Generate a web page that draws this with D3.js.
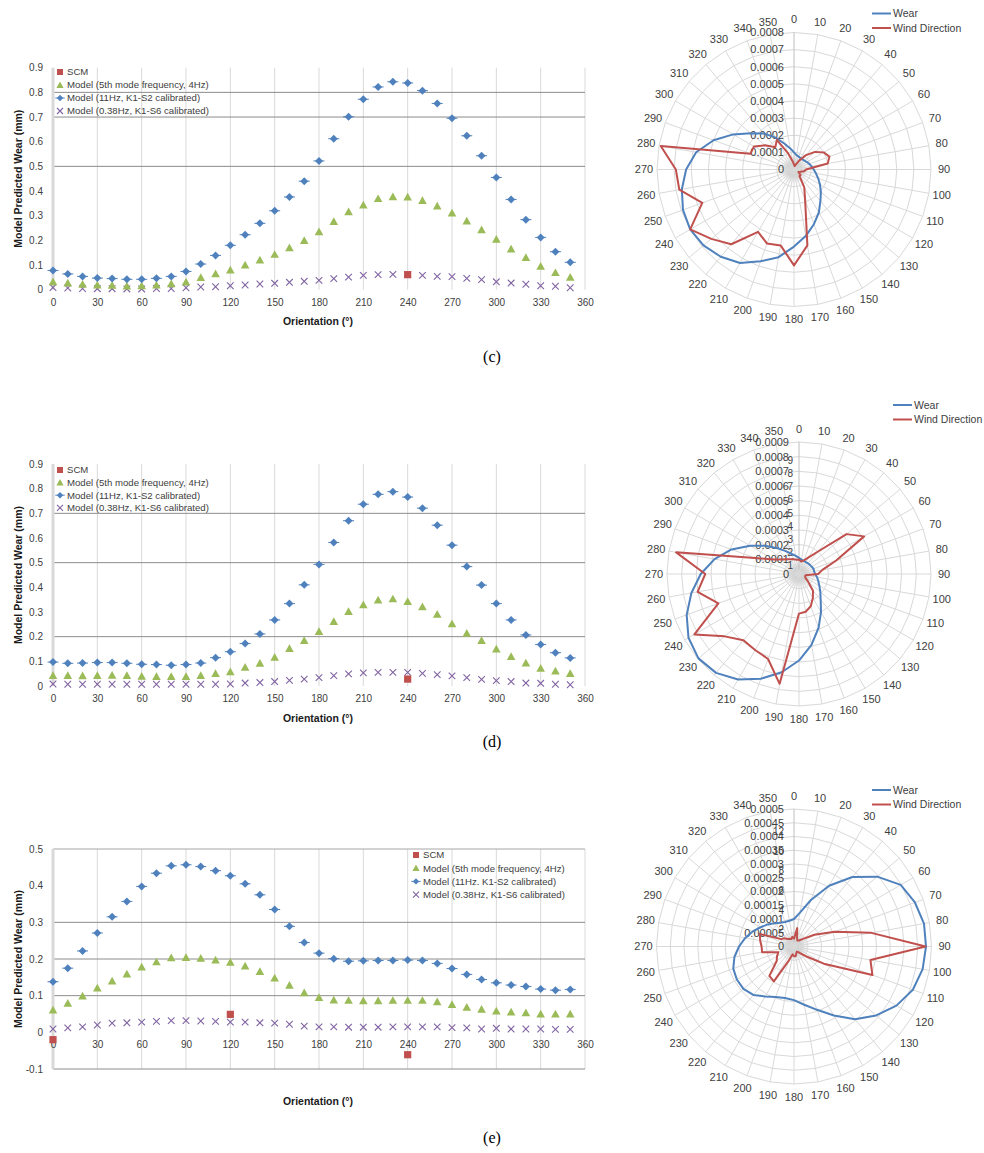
<!DOCTYPE html>
<html><head><meta charset="utf-8">
<script src="https://cdn.jsdelivr.net/npm/d3@7"></script>
<style>
body{margin:0;background:#fff;}
svg{display:block;font-family:"Liberation Sans",Arial,sans-serif;}
</style>
</head><body>
<svg id="chart" width="984" height="1153"></svg>
<script>
// ---------------- DATA ----------------
const orientation = [0,10,20,30,40,50,60,70,80,90,100,110,120,130,140,150,160,170,180,190,200,210,220,230,240,250,260,270,280,290,300,310,320,330,340,350];
const xTicks = [0,30,60,90,120,150,180,210,240,270,300,330,360];
const yTicksCD = [0,0.1,0.2,0.3,0.4,0.5,0.6,0.7,0.8,0.9];
const yLabelsCD = ["0","0.1","0.2","0.3","0.4","0.5","0.6","0.7","0.8","0.9"];
const yTicksE = [-0.1,0,0.1,0.2,0.3,0.4,0.5];
const yLabelsE = ["-0.1","0","0.1","0.2","0.3","0.4","0.5"];
const seriesNames = ["SCM","Model (5th mode frequency, 4Hz)","Model (11Hz, K1-S2 calibrated)","Model (0.38Hz, K1-S6 calibrated)"];
const seriesNamesE = ["SCM","Model (5th mode frequency, 4Hz)","Model (11Hz. K1-S2 calibrated)","Model (0.38Hz, K1-S6 calibrated)"];

// panel (c)
const cScmX = [240];
const cScmY = [0.061];
const cModel4Hz = [0.032,0.027,0.022,0.019,0.018,0.015,0.016,0.019,0.024,0.031,0.049,0.064,0.080,0.100,0.120,0.143,0.170,0.199,0.235,0.276,0.316,0.343,0.369,0.377,0.376,0.361,0.339,0.311,0.278,0.243,0.204,0.165,0.130,0.095,0.069,0.050];
const cModel11Hz = [0.078,0.064,0.054,0.047,0.045,0.042,0.042,0.046,0.054,0.074,0.104,0.139,0.180,0.223,0.269,0.320,0.376,0.440,0.522,0.612,0.701,0.772,0.822,0.843,0.838,0.807,0.755,0.695,0.624,0.543,0.455,0.366,0.284,0.212,0.154,0.111];
const cModel038Hz = [0.009,0.007,0.005,0.004,0.004,0.003,0.003,0.005,0.005,0.008,0.011,0.012,0.016,0.019,0.023,0.026,0.030,0.034,0.038,0.045,0.051,0.058,0.061,0.062,0.061,0.058,0.054,0.053,0.046,0.041,0.032,0.027,0.022,0.016,0.014,0.008];
const cGrid = [0.5,0.7,0.8];

// panel (d)
const dScmX = [240];
const dScmY = [0.028];
const dModel4Hz = [0.042,0.042,0.041,0.042,0.043,0.042,0.039,0.038,0.038,0.038,0.042,0.050,0.058,0.076,0.092,0.116,0.152,0.184,0.221,0.261,0.302,0.329,0.348,0.353,0.342,0.321,0.291,0.252,0.214,0.184,0.150,0.119,0.093,0.072,0.061,0.050];
const dModel11Hz = [0.097,0.092,0.093,0.095,0.095,0.092,0.088,0.087,0.084,0.087,0.093,0.115,0.139,0.172,0.211,0.268,0.334,0.410,0.493,0.582,0.670,0.737,0.777,0.788,0.766,0.721,0.652,0.571,0.484,0.409,0.334,0.268,0.207,0.168,0.135,0.114];
const dModel038Hz = [0.008,0.007,0.007,0.007,0.007,0.007,0.007,0.007,0.007,0.007,0.007,0.007,0.008,0.012,0.014,0.018,0.023,0.028,0.034,0.042,0.049,0.053,0.055,0.055,0.055,0.051,0.046,0.041,0.034,0.027,0.022,0.018,0.012,0.011,0.007,0.005];
const dGrid = [0.2,0.5,0.7];

// panel (e)
const eScmX = [0,120,240];
const eScmY = [-0.020,0.049,-0.061];
const eModel4Hz = [0.061,0.079,0.099,0.121,0.140,0.159,0.178,0.192,0.203,0.204,0.202,0.197,0.191,0.181,0.166,0.148,0.128,0.108,0.095,0.088,0.087,0.086,0.086,0.087,0.087,0.087,0.083,0.076,0.068,0.063,0.058,0.055,0.053,0.050,0.050,0.050];
const eModel11Hz = [0.138,0.175,0.222,0.271,0.315,0.357,0.398,0.434,0.454,0.457,0.452,0.441,0.427,0.405,0.375,0.335,0.289,0.245,0.216,0.201,0.194,0.195,0.196,0.196,0.197,0.196,0.188,0.174,0.158,0.144,0.135,0.129,0.125,0.118,0.115,0.117];
const eModel038Hz = [0.009,0.012,0.015,0.020,0.025,0.026,0.028,0.030,0.032,0.032,0.031,0.030,0.028,0.028,0.026,0.025,0.022,0.017,0.015,0.015,0.014,0.014,0.014,0.015,0.015,0.015,0.015,0.013,0.012,0.009,0.011,0.009,0.009,0.009,0.008,0.008];
const eGrid = [-0.1,0.1,0.2,0.3,0.5];

// polar charts
const polarLabels = ["0","10","20","30","40","50","60","70","80","90","100","110","120","130","140","150","160","170","180","190","200","210","220","230","240","250","260","270","280","290","300","310","320","330","340","350"];
const polarNames = ["Wear","Wind Direction"];
const cRings = [0,0.0001,0.0002,0.0003,0.0004,0.0005,0.0006,0.0007,0.0008];
const cRingLabels = ["0","0.0001","0.0002","0.0003","0.0004","0.0005","0.0006","0.0007","0.0008"];
const cWear = [0.000100,0.000085,0.000080,0.000077,0.000077,0.000080,0.000087,0.000095,0.000105,0.000115,0.000130,0.000150,0.000175,0.000205,0.000240,0.000290,0.000340,0.000395,0.000450,0.000520,0.000570,0.000630,0.000665,0.000690,0.000700,0.000690,0.000665,0.000630,0.000580,0.000500,0.000410,0.000330,0.000275,0.000215,0.000160,0.000125];
const cWind = [0.3,0.2,0.3,0.6,1.1,1.6,2.0,2.2,2.0,0.7,0.6,0.4,0.3,0.5,0.5,1.2,1.9,4.5,5.6,4.5,4.6,4.2,5.7,6.3,7.0,5.7,6.8,6.9,7.9,2.7,2.7,2.2,1.7,2.0,1.0,0.5];
const cWindTicks = [];

const dRings = [0,0.0001,0.0002,0.0003,0.0004,0.0005,0.0006,0.0007,0.0008,0.0009];
const dRingLabels = ["0","0.0001","0.0002","0.0003","0.0004","0.0005","0.0006","0.0007","0.0008","0.0009"];
const dWear = [0.000110,0.000100,0.000095,0.000093,0.000095,0.000097,0.000100,0.000105,0.000105,0.000110,0.000125,0.000140,0.000160,0.000190,0.000230,0.000300,0.000390,0.000490,0.000590,0.000680,0.000760,0.000830,0.000880,0.000895,0.000870,0.000815,0.000745,0.000670,0.000585,0.000490,0.000385,0.000300,0.000230,0.000180,0.000145,0.000125];
const dWind = [1.1,0.95,1.1,1.45,2.2,4.7,5.7,3.0,1.8,1.45,0.5,0.5,0.55,0.9,1.65,2.1,2.6,2.9,3.0,8.45,6.85,6.65,6.55,7.35,9.15,6.5,7.8,7.1,9.45,3.55,2.2,1.7,1.45,1.3,1.2,1.1];
const dWindTicks = [1,2,3,4,5,6,7,8,9];

const eRings = [0,0.00005,0.0001,0.00015,0.0002,0.00025,0.0003,0.00035,0.0004,0.00045,0.0005];
const eRingLabels = ["0","0.00005","0.0001","0.00015","0.0002","0.00025","0.0003","0.00035","0.0004","0.00045","0.0005"];
const eWear = [0.000100,0.000125,0.000180,0.000255,0.000330,0.000395,0.000448,0.000468,0.000480,0.000480,0.000475,0.000460,0.000430,0.000390,0.000345,0.000290,0.000245,0.000215,0.000195,0.000190,0.000195,0.000210,0.000230,0.000240,0.000240,0.000235,0.000220,0.000200,0.000180,0.000160,0.000140,0.000125,0.000110,0.000100,0.000095,0.000095];
const eWind = [0.8,1.9,0.9,0.7,0.8,1.2,2.4,4.4,8.0,13.4,7.9,8.5,3.5,1.5,0.8,0.6,0.7,1.0,1.0,0.8,1.5,4.1,3.9,2.3,2.0,1.7,3.3,3.3,3.5,3.7,1.5,1.3,1.0,0.9,0.8,1.0];
const eWindTicks = [2,4,6,8,10,12];

const captions = ["(c)","(d)","(e)"];

// ---------------- STYLE ----------------
const COL = {scm:"#C0504D", m4:"#9BBB59", m11:"#4F81BD", m038:"#8064A2", wear:"#4F81BD", wind:"#C0504D"};
const TXT = "#404040";
const svg = d3.select("#chart");

const triPath = s => `M0,${-s}L${s},${s*0.8}L${-s},${s*0.8}Z`;
const diaPath = s => `M0,${-s}L${s},0L0,${s}L${-s},0Z`;

function drawMarker(sel, type, s) {
  if (type === "scm") {
    sel.append("rect").attr("x",-s).attr("y",-s).attr("width",2*s).attr("height",2*s).attr("fill",COL.scm);
  } else if (type === "m4") {
    sel.append("path").attr("d",triPath(s)).attr("fill",COL.m4);
  } else if (type === "m11") {
    sel.append("path").attr("d",diaPath(s)).attr("fill",COL.m11);
    sel.append("line").attr("x1",-s-1.5).attr("x2",s+1.5).attr("y1",0).attr("y2",0).attr("stroke",COL.m11).attr("stroke-width",1);
  } else {
    sel.append("path").attr("d",`M${-s},${-s}L${s},${s}M${-s},${s}L${s},${-s}`).attr("stroke",COL.m038).attr("stroke-width",1.1).attr("fill","none");
  }
}

function scatterPanel(cfg) {
  const x = d3.scaleLinear().domain([0,360]).range([53,585]);
  const y = d3.scaleLinear().domain(cfg.yDomain).range(cfg.yRange);
  const g = svg.append("g");
  const yTop = y(cfg.yDomain[1]), yBot = y(cfg.yDomain[0]);

  g.selectAll(".vg").data(xTicks.slice(1)).join("line")
    .attr("x1",d=>x(d)).attr("x2",d=>x(d)).attr("y1",yTop).attr("y2",yBot)
    .attr("stroke","#d9d9d9").attr("stroke-width",1);
  g.selectAll(".hg").data(cfg.grid).join("line")
    .attr("x1",x(0)).attr("x2",x(360)).attr("y1",d=>y(d)).attr("y2",d=>y(d))
    .attr("stroke",d=>d===cfg.yDomain[1]?"#a6a6a6":"#8c8c8c").attr("stroke-width",1);
  g.append("line").attr("x1",x(0)).attr("x2",x(0)).attr("y1",yTop).attr("y2",yBot)
    .attr("stroke","#d9d9d9").attr("stroke-width",3);

  const ya = d3.axisLeft(y).tickValues(cfg.yTicks).tickSize(0).tickPadding(10)
    .tickFormat((d,i)=>cfg.yLabels[i]);
  const yg = g.append("g").attr("transform",`translate(${x(0)},0)`).call(ya);
  yg.select(".domain").remove();
  yg.selectAll("text").attr("font-size","10px").attr("fill",TXT).attr("font-family","Liberation Sans, Arial, sans-serif");

  const xa = d3.axisBottom(x).tickValues(xTicks).tickSize(0).tickPadding(9);
  const xg = g.append("g").attr("transform",`translate(0,${y(0)})`).call(xa);
  xg.select(".domain").remove();
  xg.selectAll("text").attr("font-size","10px").attr("fill",TXT).attr("font-family","Liberation Sans, Arial, sans-serif");

  g.append("text").attr("x",318).attr("y",cfg.xTitleY).attr("text-anchor","middle")
    .attr("font-size","10.5px").attr("font-weight","bold").attr("fill","#1a1a1a").text("Orientation (°)");
  g.append("text").attr("transform",`translate(18,${(yTop+yBot)/2}) rotate(-90)`).attr("text-anchor","middle")
    .attr("dy","0.35em").attr("font-size","10.5px").attr("font-weight","bold").attr("fill","#1a1a1a").text("Model Predicted Wear (mm)");

  const series = [
    {type:"m038", xs:orientation, ys:cfg.m038, s:3.3},
    {type:"m4", xs:orientation, ys:cfg.m4, s:4.3},
    {type:"m11", xs:orientation, ys:cfg.m11, s:4},
    {type:"scm", xs:cfg.scmX, ys:cfg.scmY, s:3.6}
  ];
  series.forEach(sr => {
    sr.ys.forEach((v,i) => {
      const m = g.append("g").attr("transform",`translate(${x(sr.xs[i])},${y(v)})`);
      drawMarker(m, sr.type, sr.s);
    });
  });

  // legend
  const types = ["scm","m4","m11","m038"];
  const sizes = [3,3.6,3.2,3];
  cfg.names.forEach((n,i) => {
    const ly = cfg.legY + i*cfg.legStep;
    const m = g.append("g").attr("transform",`translate(${cfg.legX},${ly})`);
    drawMarker(m, types[i], sizes[i]);
    g.append("text").attr("x",cfg.legX+7).attr("y",ly).attr("dy","0.35em")
      .attr("font-size","9.6px").attr("fill",TXT).text(n);
  });

  svg.append("text").attr("x",492).attr("y",cfg.capY).attr("text-anchor","middle")
    .attr("font-family","Liberation Serif, Times New Roman, serif").attr("font-size","16px").attr("fill","#000").text(cfg.caption);
}

scatterPanel({yDomain:[0,0.9], yRange:[289.7,67.7], yTicks:yTicksCD, yLabels:yLabelsCD, grid:cGrid,
  m4:cModel4Hz, m11:cModel11Hz, m038:cModel038Hz, scmX:cScmX, scmY:cScmY, xTitleY:325,
  names:seriesNames, legX:60, legY:72, legStep:13, caption:captions[0], capY:362});
scatterPanel({yDomain:[0,0.9], yRange:[686,464], yTicks:yTicksCD, yLabels:yLabelsCD, grid:dGrid,
  m4:dModel4Hz, m11:dModel11Hz, m038:dModel038Hz, scmX:dScmX, scmY:dScmY, xTitleY:722,
  names:seriesNames, legX:60, legY:470, legStep:12.6, caption:captions[1], capY:747});
scatterPanel({yDomain:[-0.1,0.5], yRange:[1069,849], yTicks:yTicksE, yLabels:yLabelsE, grid:eGrid,
  m4:eModel4Hz, m11:eModel11Hz, m038:eModel038Hz, scmX:eScmX, scmY:eScmY, xTitleY:1105,
  names:seriesNamesE, legX:416, legY:855, legStep:13.2, caption:captions[2], capY:1143});

// ---------------- POLAR ----------------
const defs = svg.append("defs");
const grad = defs.append("radialGradient").attr("id","blob");
grad.append("stop").attr("offset","0%").attr("stop-color","#7f7f7f").attr("stop-opacity",0.9);
grad.append("stop").attr("offset","55%").attr("stop-color","#b0b0b0").attr("stop-opacity",0.5);
grad.append("stop").attr("offset","100%").attr("stop-color","#d9d9d9").attr("stop-opacity",0);

function polarPanel(cfg) {
  const g = svg.append("g").attr("transform",`translate(${cfg.cx},${cfg.cy})`);
  const R = cfg.R;
  const rW = d3.scaleLinear().domain([0, cfg.rings[cfg.rings.length-1]]).range([0,R]);
  const rD = d3.scaleLinear().domain([0, cfg.windMax]).range([0,R]);
  const ang = d => d*Math.PI/180;

  g.append("circle").attr("r",15).attr("fill","url(#blob)");
  cfg.rings.slice(1).forEach(v => {
    g.append("path").attr("d", d3.lineRadial().angle(a=>ang(a)).radius(rW(v)).curve(d3.curveLinearClosed)(orientation))
      .attr("fill","none").attr("stroke","#d9d9d9").attr("stroke-width",1);
  });
  g.selectAll(".spoke").data(orientation).join("line")
    .attr("x1",0).attr("y1",0)
    .attr("x2",a=>R*Math.sin(ang(a))).attr("y2",a=>-R*Math.cos(ang(a)))
    .attr("stroke",a=>a===0?"#bfbfbf":"#d9d9d9").attr("stroke-width",1);

  // angle labels
  g.selectAll(".al").data(orientation).join("text")
    .attr("x",(a)=>(R+13)*Math.sin(ang(a))).attr("y",a=>-(R+13)*Math.cos(ang(a)))
    .attr("text-anchor","middle").attr("dy","0.35em").attr("font-size","11px").attr("fill",TXT)
    .text((a,i)=>polarLabels[i]);

  // radial labels
  g.selectAll(".rl").data(cfg.rings).join("text")
    .attr("x",-10).attr("y",v=>-rW(v)).attr("dy","0.35em").attr("text-anchor","end")
    .attr("font-size","11px").attr("fill",TXT).text((v,i)=>cfg.ringLabels[i]);
  g.selectAll(".sl").data(cfg.windTicks).join("text")
    .attr("x",cfg.secX).attr("y",v=>-rD(v)+cfg.secDy).attr("dy","0.35em").attr("text-anchor","end")
    .attr("font-size","10px").attr("fill",TXT).text(v=>v);

  // series
  const wearLine = d3.lineRadial().angle((d,i)=>ang(orientation[i])).radius(d=>rW(d)).curve(d3.curveLinearClosed);
  const windLine = d3.lineRadial().angle((d,i)=>ang(orientation[i])).radius(d=>rD(d)).curve(d3.curveLinearClosed);
  g.append("path").attr("d",wearLine(cfg.wear)).attr("fill","none").attr("stroke",COL.wear).attr("stroke-width",2).attr("stroke-linejoin","round");
  g.append("path").attr("d",windLine(cfg.wind)).attr("fill","none").attr("stroke",COL.wind).attr("stroke-width",2).attr("stroke-linejoin","round");

  // legend
  const cols = [COL.wear, COL.wind];
  polarNames.forEach((n,i) => {
    const ly = cfg.legY + i*14.5;
    svg.append("line").attr("x1",cfg.legX).attr("x2",cfg.legX+19).attr("y1",ly).attr("y2",ly)
      .attr("stroke",cols[i]).attr("stroke-width",2);
    svg.append("text").attr("x",cfg.legX+21).attr("y",ly).attr("dy","0.35em")
      .attr("font-size","10.5px").attr("fill",TXT).text(n);
  });
}

polarPanel({cx:794, cy:169.5, R:137, rings:cRings, ringLabels:cRingLabels, wear:cWear, wind:cWind, windMax:8,
  windTicks:cWindTicks, secX:-8, secDy:4, legX:872, legY:13.5});
polarPanel({cx:799, cy:574, R:132, rings:dRings, ringLabels:dRingLabels, wear:dWear, wind:dWind, windMax:10,
  windTicks:dWindTicks, secX:-6, secDy:5, legX:893, legY:405});
polarPanel({cx:794, cy:946.5, R:137.5, rings:eRings, ringLabels:eRingLabels, wear:eWear, wind:eWind, windMax:14,
  windTicks:eWindTicks, secX:-10, secDy:3, legX:872, legY:790});
</script>
</body></html>
